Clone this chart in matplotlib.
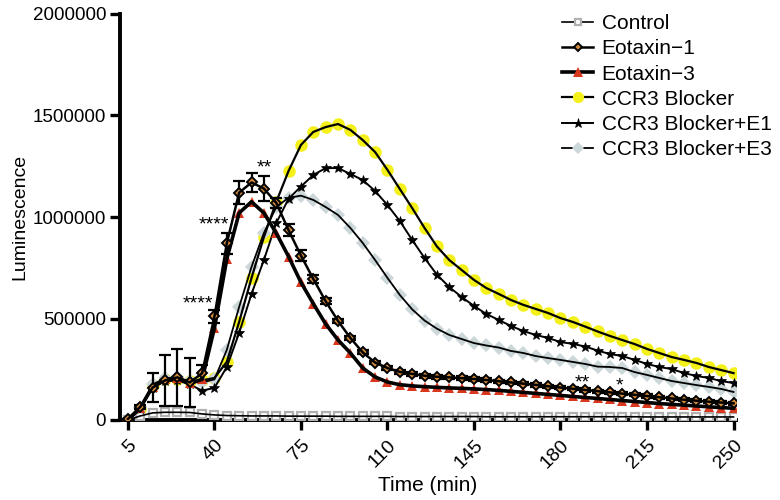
import numpy as np
import matplotlib
matplotlib.use("Agg")
import matplotlib.pyplot as plt
from matplotlib.lines import Line2D

plt.rcParams['font.family'] = ['Liberation Sans', 'DejaVu Sans']

time = list(range(5, 251, 5))

control = [0, 20000, 35000, 38000, 38000, 37000, 30000, 25000, 22000, 21000,
           20000, 20000, 20000, 19000, 19000, 19000, 19000, 18000, 18000, 18000,
           18000, 18000, 17000, 17000, 17000, 17000, 17000, 17000, 17000, 16000,
           16000, 16000, 16000, 16000, 16000, 16000, 16000, 16000, 16000, 16000,
           16000, 16000, 15000, 15000, 15000, 15000, 15000, 15000, 15000, 15000]

eotaxin1 = [5000, 65000, 160000, 195000, 210000, 185000, 230000, 510000, 870000, 1120000,
            1170000, 1140000, 1070000, 935000, 810000, 695000, 585000, 488000, 404000, 333000,
            283000, 256000, 237000, 227000, 218000, 213000, 210000, 206000, 202000, 197000,
            191000, 185000, 179000, 173000, 166000, 160000, 154000, 148000, 142000, 136000,
            130000, 124000, 118000, 112000, 106000, 100000, 95000, 90000, 86000, 82000]

eotaxin1_err = [0, 10000, 70000, 125000, 140000, 120000, 40000, 30000, 50000, 55000,
                45000, 60000, 25000, 30000, 25000, 20000, 15000, 12000, 10000, 10000,
                9000, 9000, 9000, 9000, 9000, 9000, 9000, 9000, 9000, 9000,
                8000, 8000, 8000, 8000, 8000, 8000, 8000, 8000, 8000, 8000,
                8000, 8000, 8000, 8000, 8000, 8000, 8000, 8000, 8000, 8000]

eotaxin3 = [0, 60000, 165000, 200000, 205000, 180000, 200000, 453000, 793000, 1020000,
            1075000, 1020000, 921000, 805000, 678000, 573000, 473000, 394000, 330000, 256000,
            212000, 187000, 174000, 168000, 164000, 161000, 158000, 156000, 153000, 150000,
            146000, 141000, 136000, 131000, 126000, 121000, 116000, 111000, 106000, 101000,
            96000, 91000, 86000, 81000, 77000, 73000, 69000, 65000, 61000, 58000]

blocker = [0, 55000, 170000, 200000, 200000, 190000, 195000, 207000, 286000, 483000,
           700000, 901000, 1074000, 1227000, 1355000, 1419000, 1443000, 1458000, 1429000, 1379000,
           1320000, 1232000, 1138000, 1044000, 946000, 855000, 788000, 739000, 690000, 650000,
           621000, 591000, 567000, 547000, 527000, 502000, 483000, 460000, 436000, 414000,
           394000, 374000, 350000, 330000, 310000, 296000, 281000, 261000, 246000, 231000]

blocker_e1 = [0, 55000, 160000, 190000, 195000, 175000, 145000, 158000, 261000, 429000,
              621000, 788000, 970000, 1090000, 1150000, 1207000, 1241000, 1241000, 1212000, 1182000,
              1128000, 1059000, 980000, 887000, 798000, 716000, 655000, 606000, 562000, 522000,
              493000, 463000, 438000, 419000, 404000, 384000, 375000, 362000, 342000, 325000,
              315000, 296000, 276000, 261000, 251000, 231000, 217000, 207000, 192000, 182000]

blocker_e3 = [0, 60000, 175000, 205000, 210000, 190000, 185000, 200000, 345000, 557000,
              754000, 921000, 1049000, 1095000, 1105000, 1084000, 1049000, 1010000, 946000, 872000,
              788000, 700000, 616000, 545000, 490000, 450000, 419000, 399000, 379000, 367000,
              357000, 340000, 330000, 315000, 305000, 296000, 286000, 276000, 263000, 261000,
              256000, 236000, 222000, 207000, 192000, 182000, 172000, 163000, 153000, 138000]

labels = ['Control', 'Eotaxin\u22121', 'Eotaxin\u22123', 'CCR3 Blocker',
          'CCR3 Blocker+E1', 'CCR3 Blocker+E3']
xticks = [5, 40, 75, 110, 145, 180, 215, 250]
yticks = [0, 500000, 1000000, 1500000, 2000000]

annotations = [(45.8, 960000, '****', 'right'), (39.6, 570000, '****', 'right'),
               (60, 1240000, '**', 'center'), (189, 180000, '**', 'center'),
               (204, 170000, '*', 'center')]

fig = plt.figure(figsize=(7.8, 5.0), dpi=100)
ax = fig.add_axes([120/780, 80/500, 616/780, 406/500])

t = np.array(time)

styles = [
    dict(marker='s', ms=5.5, mfc='white', mec='#b0b0b0', mew=1.6, lw=1.2, color='black'),
    dict(marker='D', ms=5, mfc='#d38b3c', mec='black', mew=1.4, lw=1.8, color='black'),
    dict(marker='^', ms=7.5, mfc='#d9381e', mec='#d9381e', mew=0, lw=2.6, color='black'),
    dict(marker='o', ms=9, mfc='#f4f01a', mec='#f4f01a', mew=0, lw=1.6, color='black'),
    dict(marker='*', ms=7.5, mfc='black', mec='black', mew=0.5, lw=1.4, color='black'),
    dict(marker='D', ms=7, mfc='#cbd7d9', mec='#cbd7d9', mew=0, lw=1.3, color='black'),
]
series = [control, eotaxin1, eotaxin3, blocker, blocker_e1, blocker_e3]

ax.errorbar(t, eotaxin1, yerr=eotaxin1_err, fmt='none', ecolor='black',
            elinewidth=1.6, capsize=4, capthick=1.6, zorder=4)

handles = []
order_z = [3, 6, 5, 2, 4, 2]
for s, st, lab, z in zip(series, styles, labels, order_z):
    ax.plot(t, s, linestyle='none', marker=st['marker'], ms=st['ms'], mfc=st['mfc'],
            mec=st['mec'], mew=st['mew'], zorder=z)
    ax.plot(t, s, color=st['color'], lw=st['lw'], zorder=z + 0.5)
    handles.append(Line2D([], [], color=st['color'], lw=st['lw'], marker=st['marker'],
                          ms=st['ms'] * 0.9, mfc=st['mfc'], mec=st['mec'], mew=st['mew']))

for x, y, txt, ha in annotations:
    ax.text(x, y, txt, ha=ha, va='center', fontsize=14)

ax.set_xlim(1.8, 251)
ax.set_ylim(0, 2000000)
ax.set_xticks(xticks)
ax.set_xticklabels([str(v) for v in xticks], rotation=45, ha='right',
                   rotation_mode='anchor', fontsize=14)
ax.set_yticks(yticks)
ax.set_yticklabels([str(v) for v in yticks], fontsize=13.5)
ax.tick_params(axis='both', direction='out', length=7, width=2.4, color='black')
ax.tick_params(axis='x', pad=5)
ax.tick_params(axis='y', pad=3)
for sp in ['top', 'right']:
    ax.spines[sp].set_visible(False)
for sp in ['left', 'bottom']:
    ax.spines[sp].set_linewidth(2.8)
ax.set_xlabel('Time (min)', fontsize=15, labelpad=3)
ax.set_ylabel('Luminescence', fontsize=14, labelpad=3)

fig.legend(handles, labels, loc='upper left', bbox_to_anchor=(562/780, 1 - 14/500),
           frameon=False, fontsize=15, handlelength=1.5, handletextpad=0.4,
           labelspacing=0.3, borderpad=0, borderaxespad=0)

fig.savefig('out.png', dpi=100)
